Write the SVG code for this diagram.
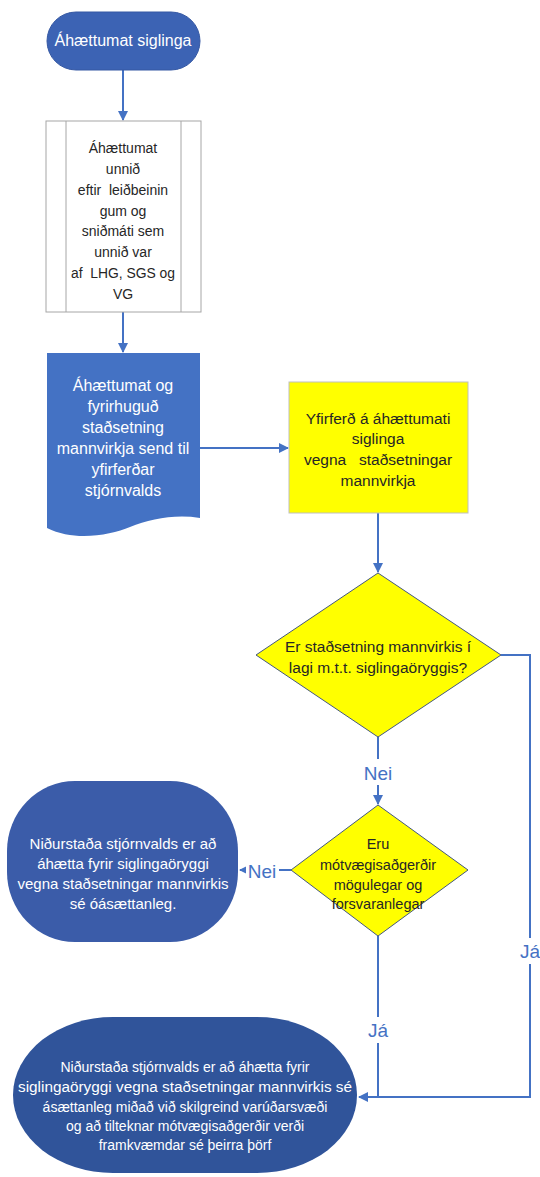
<svg xmlns="http://www.w3.org/2000/svg" width="540" height="1177" viewBox="0 0 540 1177">
<style>
text{font-family:"Liberation Sans","Open Sans",sans-serif;text-anchor:middle;white-space:pre;}
.w{fill:#ffffff;}
.d{fill:#262626;}
.lab{fill:#4472C4;font-size:19px;}
.c{fill:none;stroke:#4472C4;stroke-width:2;}
</style>
<defs>
<marker id="ah" markerWidth="10" markerHeight="10" refX="9" refY="5" orient="auto" markerUnits="userSpaceOnUse">
<path d="M0,0 L10,5 L0,10 Z" fill="#4472C4"/>
</marker>
</defs>
<rect width="540" height="1177" fill="#ffffff"/>
<g id="connectors">
<line class="c" x1="123" y1="70" x2="123" y2="120" marker-end="url(#ah)"/>
<line class="c" x1="123" y1="312" x2="123" y2="352" marker-end="url(#ah)"/>
<line class="c" x1="200" y1="448" x2="288" y2="448" marker-end="url(#ah)"/>
<line class="c" x1="378" y1="513" x2="378" y2="572" marker-end="url(#ah)"/>
<line class="c" x1="378" y1="737" x2="378" y2="804" marker-end="url(#ah)"/>
<polyline class="c" points="501,655 530,655 530,1097 359,1097" marker-end="url(#ah)"/>
<line class="c" x1="291" y1="870" x2="240" y2="870" marker-end="url(#ah)"/>
<line class="c" x1="378" y1="936" x2="378" y2="1097"/>
<rect x="360" y="759" width="36" height="26" fill="#ffffff"/>
<text class="lab" x="378" y="780">Nei</text>
<rect x="246" y="860" width="33" height="22" fill="#ffffff"/>
<text class="lab" x="262" y="878">Nei</text>
<rect x="366" y="1017" width="24" height="26" fill="#ffffff"/>
<text class="lab" x="378" y="1037">Já</text>
<rect x="518" y="938" width="24" height="26" fill="#ffffff"/>
<text class="lab" x="530" y="958">Já</text>
</g>
<g id="start">
<rect x="47" y="12" width="153" height="58" rx="29" ry="29" fill="#3C63B4" stroke="#3558a3" stroke-width="1"/>
<text class="w" x="123" y="46" style="font-size:16px">Áhættumat siglinga</text>
</g>
<g id="process" style="font-size:14px">
<rect x="46" y="121" width="155" height="191" fill="#ffffff" stroke="#A6A6A6" stroke-width="1"/>
<line x1="66" y1="121" x2="66" y2="312" stroke="#A6A6A6" stroke-width="1"/>
<line x1="181" y1="121" x2="181" y2="312" stroke="#A6A6A6" stroke-width="1"/>
<text class="d" x="123" y="153">Áhættumat</text>
<text class="d" x="123" y="174">unnið</text>
<text class="d" x="123" y="195">eftir  leiðbeinin</text>
<text class="d" x="123" y="216">gum og</text>
<text class="d" x="123" y="236">sniðmáti sem</text>
<text class="d" x="123" y="257">unnið var</text>
<text class="d" x="123" y="278" textLength="104" lengthAdjust="spacingAndGlyphs">af  LHG, SGS og</text>
<text class="d" x="123" y="299">VG</text>
</g>
<g id="document" style="font-size:16px">
<path d="M47,353 H200 V518 C175,514 150,519 130,527 C110,535 75,542 47,528 Z" fill="#4472C4"/>
<text class="w" x="123" y="391">Áhættumat og</text>
<text class="w" x="123" y="412">fyrirhuguð</text>
<text class="w" x="123" y="433">staðsetning</text>
<text class="w" x="123" y="454">mannvirkja send til</text>
<text class="w" x="123" y="475">yfirferðar</text>
<text class="w" x="123" y="496">stjórnvalds</text>
</g>
<g id="review" style="font-size:15.5px">
<rect x="289" y="382" width="179" height="131" fill="#FFFF00" stroke="#BFBFBF" stroke-width="1"/>
<text class="d" x="378" y="424">Yfirferð á áhættumati</text>
<text class="d" x="378" y="444">siglinga</text>
<text class="d" x="378" y="465">vegna   staðsetningar</text>
<text class="d" x="378" y="486">mannvirkja</text>
</g>
<g id="decision1" style="font-size:15.5px">
<polygon points="378,573 501,655 378,737 256,655" fill="#FFFF00" stroke="#44577F" stroke-width="1"/>
<text class="d" x="378" y="652">Er staðsetning mannvirkis í</text>
<text class="d" x="378" y="673">lagi m.t.t. siglingaöryggis?</text>
</g>
<g id="decision2" style="font-size:14.5px">
<polygon points="378,805 468,870 378,936 291,870" fill="#FFFF00" stroke="#44577F" stroke-width="1"/>
<text class="d" x="378" y="849">Eru</text>
<text class="d" x="378" y="870">mótvægisaðgerðir</text>
<text class="d" x="378" y="890">mögulegar og</text>
<text class="d" x="378" y="909">forsvaranlegar</text>
</g>
<g id="reject" style="font-size:15px">
<rect x="7" y="781" width="231" height="161" rx="68" ry="70" fill="#3B5CA9"/>
<text class="w" x="123" y="849">Niðurstaða stjórnvalds er að</text>
<text class="w" x="123" y="869">áhætta fyrir siglingaöryggi</text>
<text class="w" x="123" y="889">vegna staðsetningar mannvirkis</text>
<text class="w" x="123" y="909">sé óásættanleg.</text>
</g>
<g id="accept" style="font-size:14px">
<rect x="13" y="1017" width="344" height="156" rx="100" ry="78" fill="#30549A"/>
<text class="w" x="185" y="1072">Niðurstaða stjórnvalds er að áhætta fyrir</text>
<text class="w" x="185" y="1092" textLength="334" lengthAdjust="spacingAndGlyphs">siglingaöryggi vegna staðsetningar mannvirkis sé</text>
<text class="w" x="185" y="1112">ásættanleg miðað við skilgreind varúðarsvæði</text>
<text class="w" x="185" y="1131">og að tilteknar mótvægisaðgerðir verði</text>
<text class="w" x="185" y="1150">framkvæmdar sé þeirra þörf</text>
</g>
</svg>
